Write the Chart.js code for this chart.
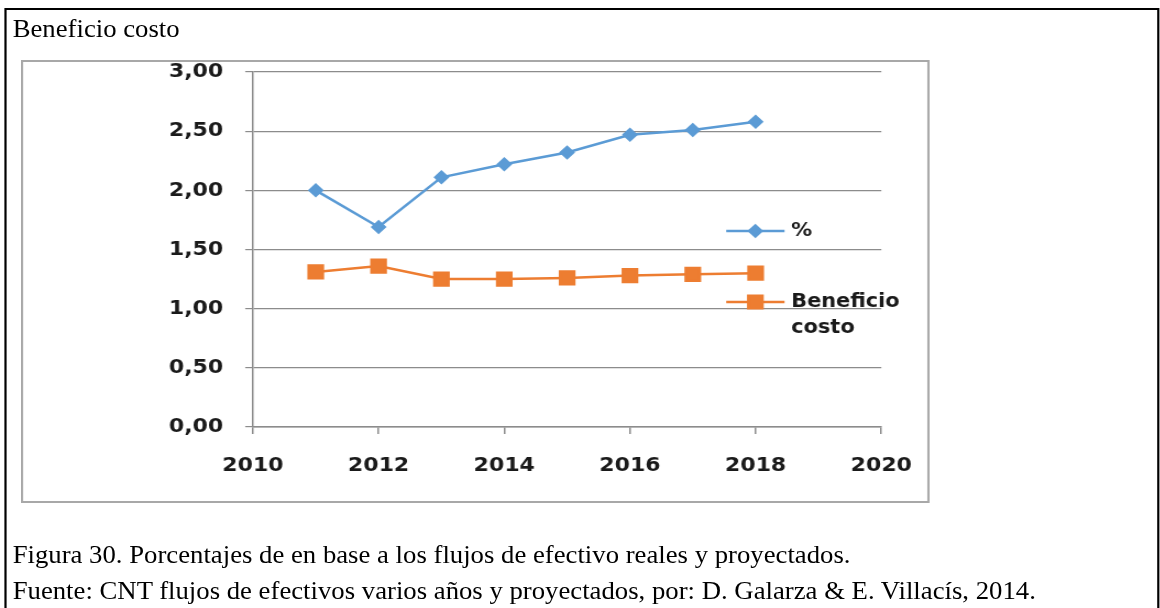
<!DOCTYPE html>
<html>
<head>
<meta charset="utf-8">
<script src="https://cdn.jsdelivr.net/npm/chart.js@4.4.1/dist/chart.umd.min.js"></script>
<style>
  html, body { margin: 0; padding: 0; background: #fff; overflow: hidden; }
  body { width: 1160px; height: 608px; position: relative; }
  /* page is laid out 1055px wide and stretched to 1160 */
  #page {
    position: absolute; left: 0; top: 0; width: 1055px; height: 608px;
    transform: scaleX(1.1); transform-origin: 0 0;
  }
  #outer {
    position: absolute; left: 3.6px; top: 8px; width: 1050px; height: 640px;
    border: 2px solid #000; box-sizing: border-box;
  }
  .txt {
    position: absolute; font-family: 'Liberation Serif', 'Times New Roman', serif;
    font-size: 24.3px; line-height: 24px; color: #000; white-space: nowrap;
  }
  #title { left: 11.5px; top: 17px; }
  #cap1 { left: 11.5px; top: 543px; }
  #cap2 { left: 11.5px; top: 579px; }
  #frame {
    position: absolute; left: 19.1px; top: 60px; width: 825.5px; height: 443px;
    border: 2px solid #a8a8a8; box-sizing: border-box; pointer-events: none;
  }
  #chartBox { position: absolute; left: 19.1px; top: 60px; width: 825.5px; height: 443px; }
</style>
</head>
<body>
<div id="page">
  <div id="outer"></div>
  <div class="txt" id="title">Beneficio costo</div>
  <div id="chartBox"><canvas id="myChart" width="825" height="443"></canvas></div>
  <div id="frame"></div>
  <div class="txt" id="cap1">Figura 30. Porcentajes de en base a los flujos de efectivo reales y proyectados.</div>
  <div class="txt" id="cap2">Fuente: CNT flujos de efectivos varios años y proyectados, por: D. Galarza &amp; E. Villacís, 2014.</div>
</div>
<script>
'use strict';

const years = [2011, 2012, 2013, 2014, 2015, 2016, 2017, 2018];
const pctValues = [2.00, 1.69, 2.11, 2.22, 2.32, 2.47, 2.51, 2.58];
const bcValues = [1.31, 1.36, 1.25, 1.25, 1.26, 1.28, 1.29, 1.30];

const seriesNames = ['%', 'Beneficio costo'];
const seriesColors = ['#5b9bd5', '#ed7d31'];

// axis ranges
const xMin = 2010, xMax = 2020, xStep = 2;
const yMin = 0, yMax = 3, yStep = 0.5;

const gridColor = '#8c8c8c';
const tickFont = { family: 'DejaVu Sans', size: 20, weight: 'bold' };

const ctx = document.getElementById('myChart').getContext('2d');

function toPoints(values) {
  return years.map((yr, i) => ({ x: yr, y: values[i] }));
}

// legend drawn inside the plot, to the right of the last points
const insideLegend = {
  id: 'insideLegend',
  afterDraw(chart) {
    const c = chart.ctx;
    const area = chart.chartArea;
    const rows = [
      { ds: 0, y: area.top + 159 },
      { ds: 1, y: area.top + 230 }
    ];
    c.save();
    rows.forEach(row => {
      const ds = chart.data.datasets[row.ds];
      const x0 = area.right - 141;
      const x1 = area.right - 88;
      c.strokeStyle = ds.borderColor;
      c.lineWidth = ds.borderWidth;
      c.beginPath();
      c.moveTo(x0, row.y);
      c.lineTo(x1, row.y);
      c.stroke();
      c.fillStyle = ds.pointBackgroundColor;
      c.strokeStyle = ds.pointBorderColor;
      Chart.helpers.drawPoint(c, {
        pointStyle: ds.pointStyle, radius: ds.pointRadius, rotation: 0, borderWidth: 1
      }, (x0 + x1) / 2, row.y);
      c.fillStyle = '#1a1a1a';
      c.font = 'bold 19px "DejaVu Sans"';
      c.textBaseline = 'middle';
      c.textAlign = 'left';
      ds.label.split(' ').forEach((word, k) => {
        c.fillText(word, x1 + 6, row.y + k * 26);
      });
    });
    c.restore();
  }
};

const myChart = new Chart(ctx, {
  type: 'line',
  data: {
    datasets: [
      {
        label: seriesNames[0],
        data: toPoints(pctValues),
        borderColor: seriesColors[0],
        backgroundColor: seriesColors[0],
        pointBackgroundColor: seriesColors[0],
        pointBorderColor: seriesColors[0],
        borderWidth: 2.5,
        pointStyle: 'rectRot',
        pointRadius: 5.5,
        tension: 0
      },
      {
        label: seriesNames[1],
        data: toPoints(bcValues),
        borderColor: seriesColors[1],
        backgroundColor: seriesColors[1],
        pointBackgroundColor: seriesColors[1],
        pointBorderColor: seriesColors[1],
        borderWidth: 2.5,
        pointStyle: 'rect',
        pointRadius: 9,
        tension: 0
      }
    ]
  },
  options: {
    responsive: false,
    animation: false,
    devicePixelRatio: 1,
    layout: { padding: { left: 0, right: 42.8, top: 12, bottom: 0 } },
    plugins: {
      legend: { display: false },
      tooltip: { enabled: false }
    },
    scales: {
      x: {
        type: 'linear',
        min: xMin,
        max: xMax,
        afterFit(scale) {
          scale.height = 76;
          scale.paddingLeft = 0;
          scale.paddingRight = 0;
        },
        border: { display: true, color: gridColor, width: 1.5 },
        grid: { drawOnChartArea: false, drawTicks: true, tickLength: 7, color: gridColor, lineWidth: 1.5 },
        ticks: {
          stepSize: xStep,
          padding: 20,
          color: '#1a1a1a',
          font: tickFont,
          maxRotation: 0,
          callback: v => String(v)
        }
      },
      y: {
        min: yMin,
        max: yMax,
        afterFit(scale) {
          scale.width = 210.9;
          scale.paddingTop = 0;
          scale.paddingBottom = 0;
        },
        border: { display: true, color: gridColor, width: 1.5 },
        grid: { color: gridColor, lineWidth: 1.2, tickLength: 7 },
        ticks: {
          stepSize: yStep,
          padding: 20,
          color: '#1a1a1a',
          font: tickFont,
          callback: v => v.toFixed(2).replace('.', ',')
        }
      }
    }
  },
  plugins: [insideLegend]
});
</script>
</body>
</html>
